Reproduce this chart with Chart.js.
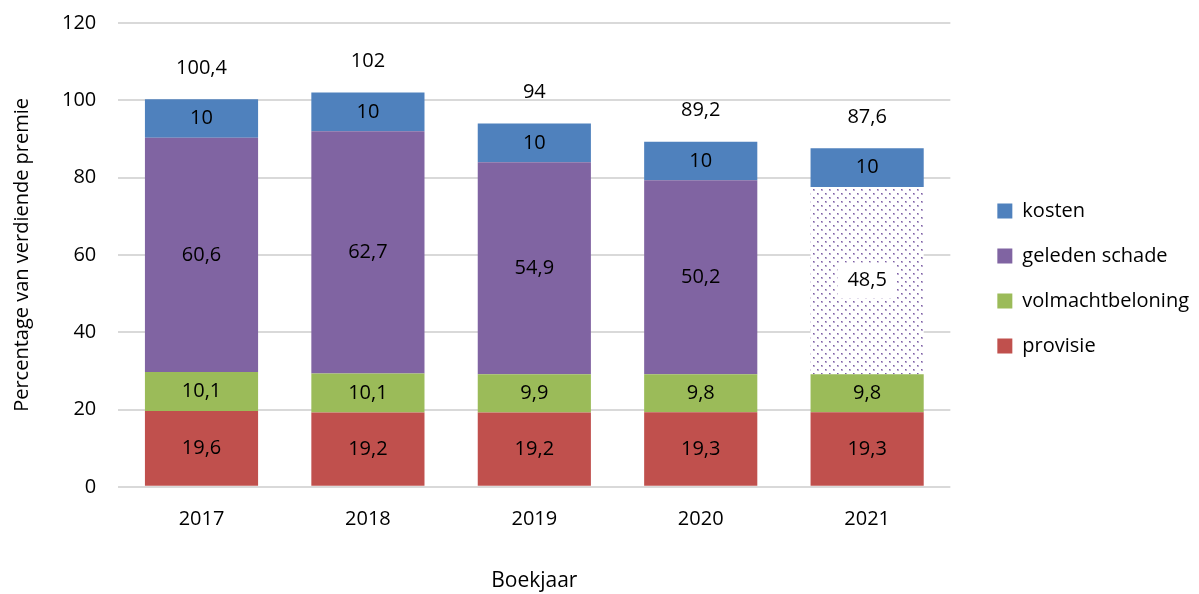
<!DOCTYPE html>
<html>
<head>
<meta charset="utf-8">
<script src="https://cdn.jsdelivr.net/npm/chart.js@4.4.1/dist/chart.umd.min.js"></script>
<style>
  html, body { margin: 0; padding: 0; background: #fff; }
  #wrap { width: 1199px; height: 594px; }
</style>
</head>
<body>
<div id="wrap"><canvas id="chart" width="1199" height="594"></canvas></div>
<script>
// ---------- Data ----------
const years = ['2017', '2018', '2019', '2020', '2021'];
const provisie = [19.6, 19.2, 19.2, 19.3, 19.3];
const volmachtbeloning = [10.1, 10.1, 9.9, 9.8, 9.8];
const geledenSchade = [60.6, 62.7, 54.9, 50.2, 48.5];
const kosten = [10, 10, 10, 10, 10];
const totals = [100.4, 102, 94, 89.2, 87.6];
const yTicks = [0, 20, 40, 60, 80, 100, 120];

const FONT = '"Open Sans", "Liberation Sans", sans-serif';
const fmt = v => String(v).replace('.', ',');

// gestippeld patroon voor 2021 (geleden schade)
function makeDotPattern() {
    const c = document.createElement('canvas');
    c.width = 8; c.height = 8;
    const g = c.getContext('2d');
    g.fillStyle = '#ffffff';
    g.fillRect(0, 0, 8, 8);
    [[1, 1], [5, 5]].forEach(([x, y]) => {
        g.fillStyle = '#b9a9d0';
        g.fillRect(x, y, 2, 2);
        g.fillStyle = '#7d60a3';
        g.fillRect(x, y, 1, 1);
    });
    return g.createPattern(c, 'repeat');
}
const dotPattern = makeDotPattern();

// ---------- Labels plugin ----------
const labelsPlugin = {
    id: 'barLabels',
    afterDatasetsDraw(chart) {
        const ctx = chart.ctx;
        ctx.save();
        ctx.font = '20px ' + FONT;
        ctx.textAlign = 'center';
        ctx.textBaseline = 'middle';
        chart.data.datasets.forEach((ds, di) => {
            const meta = chart.getDatasetMeta(di);
            meta.data.forEach((bar, i) => {
                const y = (bar.y + bar.base) / 2;
                const txt = fmt(ds.data[i]);
                if (di === 2 && i === 4) {
                    const w = ctx.measureText(txt).width + 20;
                    ctx.fillStyle = '#ffffff';
                    ctx.fillRect(bar.x - w / 2, y - 18, w, 36);
                }
                ctx.fillStyle = '#000000';
                ctx.fillText(txt, bar.x, y);
            });
        });
        // totalen boven de staven
        const top = chart.getDatasetMeta(chart.data.datasets.length - 1);
        top.data.forEach((bar, i) => {
            ctx.fillStyle = '#000000';
            ctx.fillText(fmt(totals[i]), bar.x, bar.y - 31);
        });
        ctx.restore();
    }
};

// legenda iets verschuiven (rechts en omhoog), zoals in het origineel
const legendShift = {
    id: 'legendShift',
    beforeDraw(chart) {
        const lg = chart.legend;
        if (!lg || lg._shifted) return;
        lg.left += 22; lg.right += 22;
        lg.top -= 30; lg.bottom -= 30;
        lg._shifted = true;
    },
    afterUpdate(chart) {
        if (chart.legend) chart.legend._shifted = false;
    }
};

new Chart(document.getElementById('chart'), {
    type: 'bar',
    data: {
        labels: years,
        datasets: [
            { label: 'provisie', data: provisie, backgroundColor: '#c0504d' },
            { label: 'volmachtbeloning', data: volmachtbeloning, backgroundColor: '#9bbb59' },
            {
                label: 'geleden schade', data: geledenSchade,
                backgroundColor: (c) => (c.dataIndex === 4 ? dotPattern : '#8064a2'),
            },
            { label: 'kosten', data: kosten, backgroundColor: '#4f81bd' },
        ],
    },
    options: {
        responsive: false,
        animation: false,
        layout: { padding: { top: 23, right: 22, bottom: 0, left: 10 } },
        datasets: { bar: { barPercentage: 0.68, categoryPercentage: 1 } },
        scales: {
            x: {
                stacked: true,
                grid: { display: false },
                border: { display: false },
                ticks: { color: '#000', font: { family: FONT, size: 20 }, padding: 12 },
                title: { display: true, text: 'Boekjaar', color: '#000', font: { family: FONT, size: 21 }, padding: { top: 26, bottom: 0 } },
            },
            y: {
                stacked: true,
                min: 0, max: 120,
                afterBuildTicks: (axis) => { axis.ticks = yTicks.map(v => ({ value: v })); },
                afterFit: (axis) => { axis.paddingTop = 0; },
                grid: { color: '#d9d9d9', lineWidth: 2, drawTicks: false },
                border: { display: false },
                ticks: { color: '#000', font: { family: FONT, size: 20 }, padding: 22 },
                title: { display: true, text: 'Percentage van verdiende premie', color: '#000', font: { family: FONT, size: 20 }, padding: { top: 0, bottom: 6 } },
            },
        },
        plugins: {
            legend: {
                position: 'right',
                reverse: true,
                labels: {
                    color: '#000',
                    font: { family: FONT, size: 20 },
                    boxWidth: 15, boxHeight: 15,
                    padding: 25,
                },
            },
            tooltip: { enabled: false },
        },
    },
    plugins: [labelsPlugin, legendShift],
});
</script>
</body>
</html>
